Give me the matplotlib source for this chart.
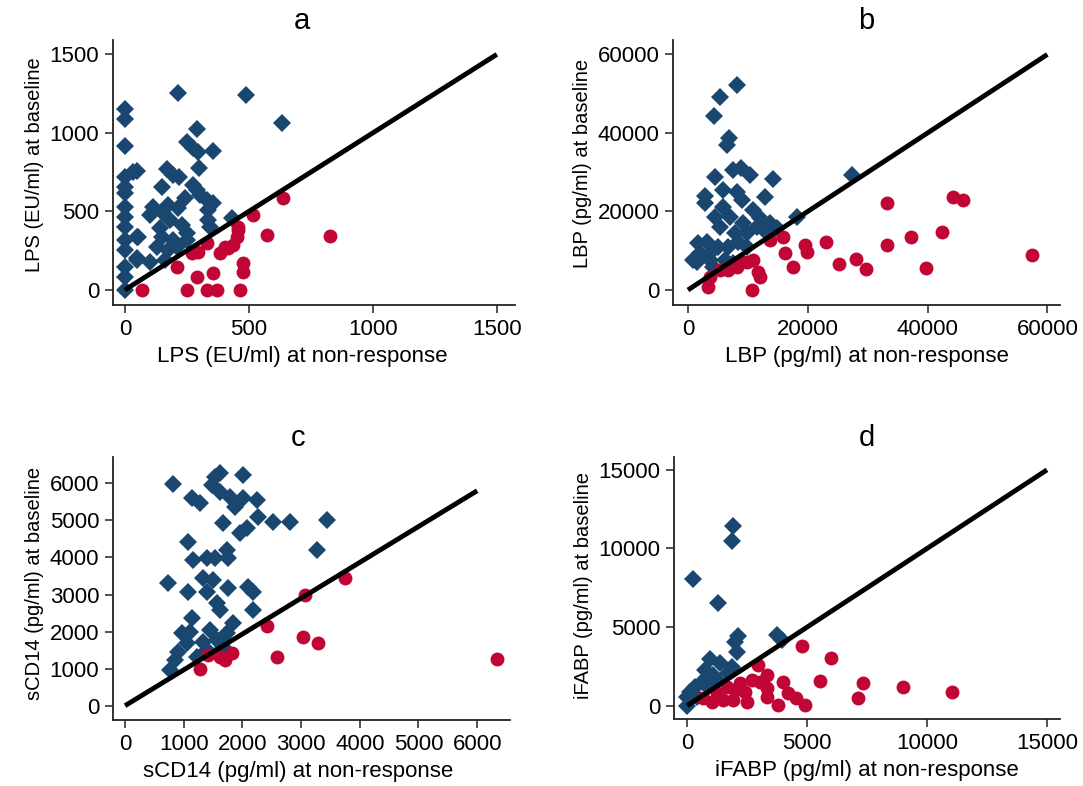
import matplotlib
matplotlib.use("Agg")
import matplotlib.pyplot as plt

plt.rcParams['font.family'] = ['Liberation Sans', 'DejaVu Sans']

BLUE = '#1a476f'
RED = '#c10534'

# ---------------- Panel a: LPS (EU/ml) ----------------
a_blue_x = [214, 488, 0, 0, 633, 290, 0, 250, 274, 294, 355, 298, 169, 193, 218, 48, 0, 0, 0,
            149, 274, 290, 302, 242, 330, 355, 113, 173, 214, 334, 101, 153, 0, 0, 0, 52, 181,
            141, 230, 334, 342, 431, 250, 149, 193, 129, 0, 0, 48, 0, 0, 0, 173, 210, 250, 161,
            101, 32, 48, 48]
a_blue_y = [1255, 1242, 1153, 1089, 1064, 1025, 917, 943, 904, 880, 885, 777, 771, 733, 720, 758,
            720, 656, 618, 656, 669, 637, 605, 586, 573, 554, 529, 541, 522, 510, 478, 490, 529,
            465, 401, 338, 446, 395, 414, 446, 401, 459, 363, 338, 318, 274, 318, 255, 191, 147,
            83, 0, 255, 274, 318, 191, 178, 750, 340, 204]
a_red_x = [68, 250, 330, 371, 463, 290, 355, 210, 476, 476, 270, 294, 330, 383, 403, 435, 451,
           455, 455, 572, 826, 516, 637, 415]
a_red_y = [0, 0, 0, 0, 0, 83, 108, 147, 172, 115, 236, 242, 299, 236, 274, 287, 338, 382, 401,
           350, 344, 478, 586, 268]
a_line = ([0, 1500], [0, 1500])
a_ticks = [0, 500, 1000, 1500]

# ---------------- Panel b: LBP (pg/ml) ----------------
b_blue_x = [8240, 5340, 4400, 6900, 6460, 4510, 7570, 8800, 10350, 14250, 27340, 2840, 2840,
            5900, 8130, 12860, 5900, 8970, 10900, 12020, 4510, 7010, 5340, 9240, 13690, 18150,
            3120, 2000, 1450, 3670, 5070, 6740, 7850, 9800, 11470, 8400, 9800, 6180, 13140,
            14800, 7570, 4230, 1720, 890, 3670]
b_blue_y = [52230, 49100, 44400, 38650, 36950, 28870, 30570, 31000, 29300, 28280, 29300, 23950,
            22090, 25480, 25050, 23780, 21230, 22930, 20380, 18260, 18680, 18680, 16130, 16990,
            16990, 18680, 12300, 9350, 7220, 7640, 11030, 11030, 14450, 14450, 16130, 12300,
            11030, 7640, 14450, 15720, 6800, 5940, 11900, 7640, 9350]
b_red_x = [3390, 3670, 10640, 11740, 12020, 6740, 8130, 9800, 10910, 13690, 15920, 16200, 17480,
           19540, 19820, 23050, 25270, 28010, 29680, 33180, 33180, 37190, 39750, 42370, 44200,
           45980, 57400, 5340, 8970]
b_red_y = [850, 3400, 0, 4670, 3390, 5100, 5940, 7220, 7640, 12740, 13590, 9350, 5940, 11470,
           9770, 12310, 6620, 7890, 5430, 22090, 11470, 13580, 5680, 14860, 23780, 22930, 8920,
           5100, 7220]
b_line = ([0, 60000], [0, 60000])
b_ticks = [0, 20000, 40000, 60000]

# ---------------- Panel c: sCD14 (pg/ml) ----------------
c_blue_x = [824, 1619, 1534, 1477, 1619, 2016, 1136, 1278, 1789, 1874, 2016, 2244, 2272, 2527,
            2812, 3437, 1675, 1960, 2073, 3267, 1079, 1164, 1392, 1534, 1733, 1761, 738, 1079,
            1335, 1505, 1392, 1761, 2101, 2187, 1562, 2187, 1619, 1846, 1136, 966, 1108, 1449,
            1562, 1335, 1051, 909, 852, 767, 1675, 1222, 1392, 1733]
c_blue_y = [5986, 6275, 6183, 5959, 5778, 6229, 5600, 5465, 5643, 5373, 5600, 5554, 5103, 4968,
            4968, 5014, 4925, 4655, 4790, 4204, 4428, 3934, 3980, 3980, 4204, 3980, 3305, 3078,
            3440, 3394, 3078, 3170, 3213, 3078, 2765, 2584, 2584, 2225, 2360, 1955, 2000, 2044,
            1774, 1730, 1685, 1459, 1234, 964, 1594, 1324, 1505, 1955]
c_red_x = [1278, 1420, 1619, 1704, 1818, 2414, 2585, 3028, 3295, 3067, 3749, 6345]
c_red_y = [983, 1370, 1324, 1234, 1432, 2160, 1306, 1864, 1702, 2990, 3440, 1253]
c_line = ([0, 6000], [0, 5800])
c_ticks = [0, 1000, 2000, 3000, 4000, 5000, 6000]

# ---------------- Panel d: iFABP (pg/ml) ----------------
d_blue_x = [1918, 1850, 225, 1293, 2127, 1989, 2060, 3753, 3936, 947, 1364, 1850, 738, 1084,
            1710, 600, 321, 113, 0, 0, 876, 392, 1226]
d_blue_y = [11430, 10500, 8080, 6510, 4430, 4070, 3430, 4500, 4180, 2950, 2700, 2480, 2270,
            1950, 2060, 1530, 1210, 890, 570, 0, 1210, 570, 1630]
d_red_x = [4770, 5980, 5530, 7310, 7130, 4000, 4210, 4530, 4910, 3800, 3310, 2960, 2690, 3310,
           3310, 3030, 2410, 2480, 1920, 1500, 1020, 1990, 2200, 1640, 670, 1230, 8980, 11030]
d_red_y = [3820, 3010, 1590, 1420, 470, 1530, 830, 470, 45, 45, 1950, 2590, 1630, 570, 1100,
           1530, 890, 250, 360, 360, 250, 1000, 1420, 1210, 470, 790, 1210, 850]
d_line = ([0, 15000], [0, 15000])
d_ticks = [0, 5000, 10000, 15000]

panels = [
    dict(title='a', rect=[0.1043, 0.6120, 0.3712, 0.3372], xlim=(-48, 1573), ylim=(-96, 1592),
         bx=a_blue_x, by=a_blue_y, rx=a_red_x, ry=a_red_y, line=a_line, xt=a_ticks, yt=a_ticks,
         xl='LPS (EU/ml) at non-response', yl='LPS (EU/ml) at baseline', cx=0.47, cy=0.53),
    dict(title='b', rect=[0.6214, 0.6120, 0.3573, 0.3372], xlim=(-2500, 62100), ylim=(-3822, 63700),
         bx=b_blue_x, by=b_blue_y, rx=b_red_x, ry=b_red_y, line=b_line, xt=b_ticks, yt=b_ticks,
         xl='LBP (pg/ml) at non-response', yl='LBP (pg/ml) at baseline', cx=0.5, cy=0.535),
    dict(title='c', rect=[0.1041, 0.0840, 0.3668, 0.3350], xlim=(-210, 6560), ylim=(-386, 6720),
         bx=c_blue_x, by=c_blue_y, rx=c_red_x, ry=c_red_y, line=c_line, xt=c_ticks, yt=c_ticks,
         xl='sCD14 (pg/ml) at non-response', yl='sCD14 (pg/ml) at baseline', cx=0.467, cy=0.52),
    dict(title='d', rect=[0.6223, 0.0849, 0.3564, 0.3341], xlim=(-555, 15540), ylim=(-865, 15840),
         bx=d_blue_x, by=d_blue_y, rx=d_red_x, ry=d_red_y, line=d_line, xt=d_ticks, yt=d_ticks,
         xl='iFABP (pg/ml) at non-response', yl='iFABP (pg/ml) at baseline', cx=0.5, cy=0.51),
]

fig = plt.figure(figsize=(10.83, 7.86), dpi=100)
for p in panels:
    ax = fig.add_axes(p['rect'])
    ax.plot(p['bx'], p['by'], linestyle='none', marker='D', markersize=8.8,
            color=BLUE, markeredgewidth=0, zorder=2)
    ax.plot(p['rx'], p['ry'], linestyle='none', marker='o', markersize=10,
            color=RED, markeredgewidth=0, zorder=3)
    ax.plot(p['line'][0], p['line'][1], color='black', linewidth=3.5,
            solid_capstyle='butt', zorder=4)
    ax.set_xlim(p['xlim'])
    ax.set_ylim(p['ylim'])
    ax.set_xticks(p['xt'])
    ax.set_yticks(p['yt'])
    for s in ['top', 'right']:
        ax.spines[s].set_visible(False)
    for s in ['left', 'bottom']:
        ax.spines[s].set_linewidth(1.3)
        ax.spines[s].set_color('#222222')
    ax.tick_params(axis='both', direction='out', length=5.8, width=1.1,
                   labelsize=16, pad=4, color='#222222')
    ax.set_xlabel(p['xl'], fontsize=16, labelpad=3)
    ax.set_ylabel(p['yl'], fontsize=14.5, labelpad=4)
    ax.xaxis.set_label_coords(p['cx'], -0.155)
    ax.yaxis.label.set_y(p['cy'])
    ax.set_title(p['title'], fontsize=21, pad=8, x=p['cx'])

fig.savefig('out.png', dpi=100)
